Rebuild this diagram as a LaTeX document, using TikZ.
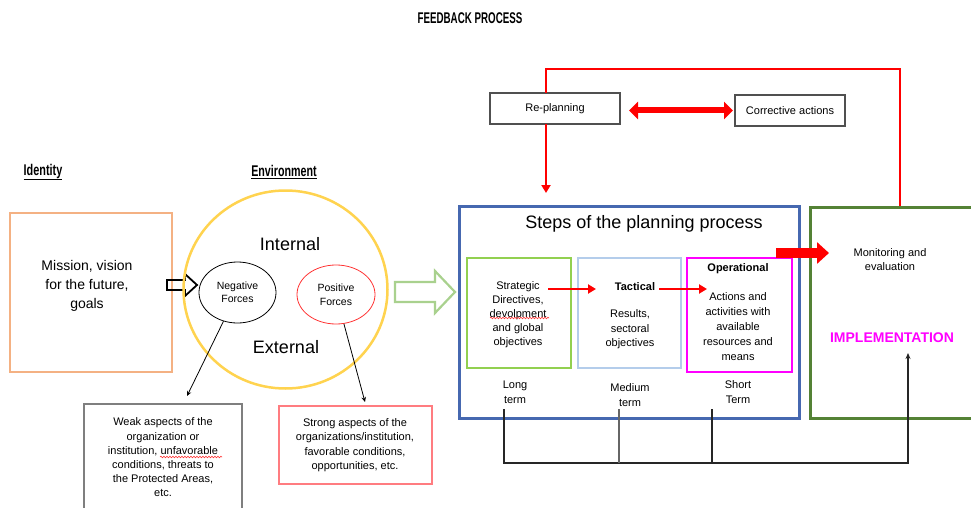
\documentclass[tikz,border=0pt]{standalone}
\usepackage{fontspec}
\setmainfont{Liberation Sans}
\usepackage{graphicx}
\usetikzlibrary{arrows.meta,decorations.pathmorphing,shapes.geometric}
\definecolor{orangeC}{HTML}{F4B183}
\definecolor{yellowC}{HTML}{FFD34F}
\definecolor{lgreenC}{HTML}{A9D18E}
\definecolor{blueC}{HTML}{4668B0}
\definecolor{sgreenC}{HTML}{92D050}
\definecolor{lblueC}{HTML}{B4CDEB}
\definecolor{magC}{HTML}{FF00FF}
\definecolor{dgreenC}{HTML}{548235}
\definecolor{redC}{HTML}{FF0000}
\definecolor{pinkC}{HTML}{FF7C80}
\definecolor{grayC}{HTML}{7F7F7F}
\definecolor{dgrayC}{HTML}{505050}
\begin{document}
\begin{tikzpicture}[x=1pt,y=-1pt,
  box/.style={draw, inner sep=0pt, outer sep=0pt},
  txt/.style={align=center, inner sep=0pt},
  small/.style={font=\fontsize{11}{14.5}\selectfont},
  big/.style={font=\fontsize{18}{22}\selectfont},
  head/.style={font=\fontsize{15.5}{17}\selectfont},
  thinarrow/.style={draw=black, line width=0.8pt, -{Stealth[length=5pt,width=4.5pt]}},
  redline/.style={draw=redC, line width=2pt},
  redarrow/.style={draw=redC, line width=2pt, -{Triangle[length=8pt,width=9pt]}},
  busline/.style={draw=black!85, line width=1.1pt},
  squiggle/.style={draw=red!80, line width=0.6pt, decorate, decoration={snake, amplitude=0.8pt, segment length=3pt}}
]
\useasboundingbox (0,0) rectangle (971,508);
\fill[white] (0,0) rectangle (971,508);

% headings
\node[txt, head] (title) at (470,18) {\scalebox{0.63}[1]{\bfseries FEEDBACK PROCESS}};
\node[txt, head] (identity) at (43,172) {\underline{\scalebox{0.7}[1]{\bfseries Identity}}};
\node[txt, head] (environment) at (284,172) {\underline{\scalebox{0.69}[1]{\bfseries Environment}}};

% identity box
\node[box, draw=orangeC, line width=2.5pt, minimum width=162pt, minimum height=159pt] (mission) at (91,292.5) {};
\node[txt, font=\fontsize{14}{19}\selectfont] (missiontxt) at (87,286) {Mission, vision\\for the future,\\goals};

% black hollow arrow
\draw[black, line width=1.8pt, line join=miter] (167,280) -- (185,280) -- (185,274) -- (197,285) -- (185,296) -- (185,290) -- (167,290) -- cycle;

% environment circle
\node[ellipse, draw=yellowC, line width=2.5pt, minimum width=204pt, minimum height=198pt, inner sep=0pt] (env) at (285.5,289.5) {};
\node[txt, big] (internal) at (290,244) {Internal};
\node[txt, big] (external) at (286,347) {External};
\node[ellipse, draw=black, line width=0.8pt, minimum width=77pt, minimum height=61pt, inner sep=0pt, align=center, font=\fontsize{10.5}{13}\selectfont] (neg) at (237.5,292.5) {Negative\\Forces};
\node[ellipse, draw=redC!80, line width=0.8pt, minimum width=78pt, minimum height=59pt, inner sep=0pt, align=center, font=\fontsize{10.5}{14}\selectfont] (pos) at (336,294.5) {Positive\\Forces};

% weak / strong boxes
\node[box, draw=grayC, line width=1.5pt, minimum width=158pt, minimum height=111pt] (weak) at (163,459.5) {};
\node[txt, small, font=\fontsize{11}{14.2}\selectfont] (weaktxt) at (163,457.5) {Weak aspects of the\\organization or\\institution, unfavorable\\conditions, threats to\\the Protected Areas,\\etc.};
\draw[squiggle] (160,457) -- (222,457);
\node[box, draw=pinkC, line width=1.5pt, minimum width=153pt, minimum height=78pt] (strong) at (355.5,445) {};
\node[txt, small] (strongtxt) at (355,445) {Strong aspects of the\\organizations/institution,\\favorable conditions,\\opportunities, etc.};

\coordinate (negtip) at (187,396);
\coordinate (postip) at (365,402);
\draw[thinarrow] (neg) -- (negtip);
\draw[thinarrow] (pos) -- (postip);

% green hollow arrow
\draw[lgreenC, line width=2.2pt, line join=miter] (395,282) -- (435,282) -- (435,271) -- (455,292) -- (435,313) -- (435,302) -- (395,302) -- cycle;

% planning process
\node[box, draw=blueC, line width=3pt, minimum width=340pt, minimum height=212pt] (steps) at (629,312) {};
\node[txt, big] (stepstxt) at (644,224) {Steps of the planning process};
\node[box, draw=sgreenC, line width=2.5pt, minimum width=104pt, minimum height=110pt] (strat) at (519,313) {};
\node[box, draw=lblueC, line width=2pt, minimum width=103pt, minimum height=110pt] (tact) at (629.5,313) {};
\node[box, draw=magC, line width=2.5pt, minimum width=105pt, minimum height=114pt] (oper) at (739.5,315) {};

\node[txt, small, font=\fontsize{11}{14}\selectfont] (strattxt) at (518,315) {Strategic\\Directives,\\devolpment\\and global\\objectives};
\draw[squiggle] (490,318) -- (549,318);
\node[txt, small] (tacthead) at (635,287) {\bfseries Tactical};
\node[txt, small] (tacttxt) at (630,329.5) {Results,\\sectoral\\objectives};
\node[txt, small] (operhead) at (738,269) {\bfseries Operational};
\node[txt, small, font=\fontsize{11}{15}\selectfont] (opertxt) at (738,327) {Actions and\\activities with\\available\\resources and\\means};

\coordinate (a1s) at (548,289);
\coordinate (a1e) at (596,289);
\coordinate (a2s) at (659,289);
\coordinate (a2e) at (707,289);
\draw[redarrow] (a1s) -- (a1e);
\draw[redarrow] (a2s) -- (a2e);

\node[txt, small, font=\fontsize{11}{15}\selectfont] (longterm) at (515,392.5) {Long\\term};
\node[txt, small, font=\fontsize{11}{15}\selectfont] (medterm) at (630,395.5) {Medium\\term};
\node[txt, small, font=\fontsize{11}{15}\selectfont] (shortterm) at (738,392.5) {Short\\Term};

% implementation box
\node[box, draw=dgreenC, line width=3pt, minimum width=170pt, minimum height=211pt] (impl) at (895,312.5) {};
\node[txt, small] (montxt) at (890,259.5) {Monitoring and\\evaluation};
\node[txt, font=\fontsize{14}{16}\selectfont\bfseries, text=magC] (impltxt) at (892,338) {IMPLEMENTATION};

% thick red arrow to monitoring
\coordinate (tks) at (776,253);
\coordinate (tke) at (829,253);
\draw[redC, line width=10pt, -{Triangle[length=12pt,width=21pt]}] (tks) -- (tke);

% re-planning / corrective actions
\node[box, draw=dgrayC, line width=1.5pt, minimum width=130pt, minimum height=31pt, small] (replan) at (555,108.5) {Re-planning};
\node[box, draw=dgrayC, line width=1.5pt, minimum width=110pt, minimum height=31pt, small] (corr) at (790,110.5) {Corrective actions};
\draw[redC, line width=6pt, {Triangle[length=9pt,width=17pt]}-{Triangle[length=9pt,width=17pt]}, shorten <=9pt, shorten >=2pt] (replan.east |- corr.west) -- (corr.west);

% feedback loop
\coordinate (fbcorner) at (546,69);
\coordinate (fbtip) at (546,193);
\coordinate (fbstart) at (900,206);
\draw[redline] (fbstart) |- (fbcorner) -- (replan.north -| fbcorner);
\draw[redarrow] (replan.south -| fbcorner) -- (fbtip);

% bottom bus
\coordinate (ltop) at (504,409);
\coordinate (mtop) at (619,409);
\coordinate (stop) at (712,409);
\coordinate (busR) at (908,463);
\coordinate (impltip) at (908,353);
\draw[busline, -{Stealth[length=6pt,width=5pt]}] (ltop) |- (busR) -- (impltip);
\draw[busline, draw=black!60] (mtop) -- (mtop |- busR);
\draw[busline] (stop) -- (stop |- busR);
\end{tikzpicture}
\end{document}
